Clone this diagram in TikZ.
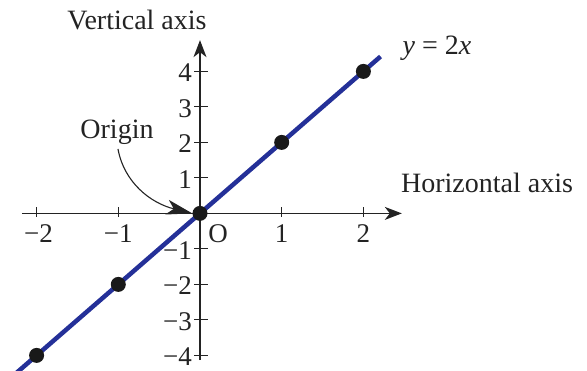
\documentclass[tikz,border=0pt]{standalone}
\usepackage{fontspec}
\setmainfont{Liberation Serif}
\usetikzlibrary{arrows.meta}
\definecolor{lineblue}{RGB}{36,48,152}
\definecolor{inkgray}{RGB}{35,35,35}
\begin{document}
\begin{tikzpicture}[x=1pt,y=-1pt,
  axisline/.style={draw=inkgray,line width=1.3pt,-{Stealth[length=17pt,width=13pt,inset=5pt]}},
  tickline/.style={draw=inkgray,line width=1.1pt},
  txt/.style={font=\fontsize{28}{30}\selectfont,text=inkgray,inner sep=0pt},
  ticklbl/.style={font=\fontsize{27}{29}\selectfont,text=inkgray,inner sep=0pt},
  dot/.style={circle,fill=black!90,minimum size=15pt,inner sep=0pt},
  graphline/.style={draw=lineblue,line width=4.5pt},
  callout/.style={draw=inkgray,line width=1.1pt,-{Stealth[length=26pt,width=15pt,inset=7pt]}}]
\useasboundingbox (0,0) rectangle (587,371);
\begin{scope}[shift={(200,213.4)},x=81.7pt,y=35.5pt]
  % axes
  \coordinate (xl) at (-2.18,0);
  \coordinate (xr) at (2.47,0);
  \coordinate (yb) at (0,-4.13);
  \coordinate (yt) at (0,4.88);
  \draw[axisline] (xl) -- (xr);
  \draw[axisline] (yb) -- (yt);
  % graph line
  \coordinate (ls) at (-2.3,-4.6);
  \coordinate (le) at (2.21,4.42);
  \draw[graphline] (ls) -- (le);
  % x ticks
  \foreach \x/\l/\dx in {-2/\textminus2/2pt,-1/\textminus1/0pt,1/1/0pt,2/2/0pt}{
    \draw[tickline] (\x,0) ++(0pt,6pt) -- ++(0pt,-10pt);
    \node[ticklbl] (xlab\x) at ([xshift=\dx,yshift=-20pt]\x,0) {\l};
  }
  \node[ticklbl] (olab) at ([xshift=18pt,yshift=-20pt]0,0) {O};
  % y ticks
  \foreach \y/\l in {4/4,3/3,2/2,1/1,-1/\textminus1,-2/\textminus2,-3/\textminus3,-4/\textminus4}{
    \draw[tickline] (0,\y) ++(-6pt,0pt) -- ++(14pt,0pt);
    \node[ticklbl,anchor=east] (ylab\y) at ([xshift=-8pt,yshift=-1.5pt]0,\y) {\l};
  }
  % dots
  \foreach \x/\y/\n in {-2/-4/a,-1/-2/b,0/0/o,1/2/c,2/4/d}{
    \node[dot] (p\n) at (\x,\y) {};
  }
\end{scope}
% labels
\node[txt] (vax) at (137,20) {Vertical axis};
\node[txt] (hax) at (487,183) {Horizontal axis};
\node[txt] (eq) at (437,48) {\textit{y} = 2\textit{x}};
\node[txt] (orig) at (117,132) {Origin};
\draw[callout] (118,149) .. controls (124,182) and (150,203) .. (po.west);
\end{tikzpicture}
\end{document}
